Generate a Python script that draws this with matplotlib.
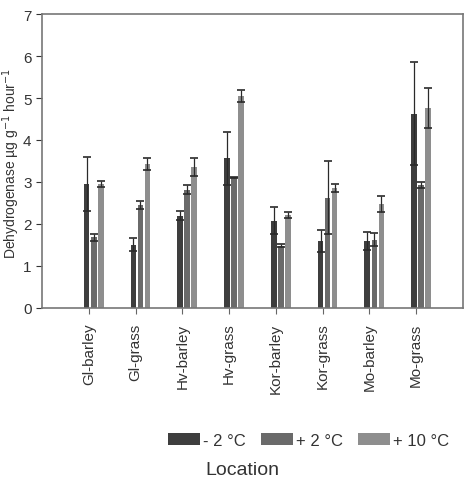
import numpy as np
import matplotlib
matplotlib.use("Agg")
import matplotlib.pyplot as plt

plt.rcParams['font.family'] = ['Liberation Sans', 'DejaVu Sans']

# data
locations = ['Gl-barley', 'Gl-grass', 'Hv-barley', 'Hv-grass',
             'Kor-barley', 'Kor-grass', 'Mo-barley', 'Mo-grass']
series = ['- 2 °C', '+ 2 °C', '+ 10 °C']
minus2 = [2.95, 1.51, 2.20, 3.56, 2.08, 1.60, 1.59, 4.63]
minus2_err = [0.65, 0.15, 0.10, 0.63, 0.32, 0.26, 0.22, 1.22]
plus2 = [1.68, 2.45, 2.82, 3.11, 1.48, 2.63, 1.63, 2.93]
plus2_err = [0.08, 0.10, 0.11, 0.01, 0.04, 0.87, 0.15, 0.08]
plus10 = [2.95, 3.43, 3.36, 5.04, 2.21, 2.86, 2.48, 4.76]
plus10_err = [0.07, 0.14, 0.22, 0.14, 0.07, 0.09, 0.19, 0.47]

colors = ['#3e3e3e', '#6a6a6a', '#8e8e8e']
offsets = [-0.045, 0.105, 0.255]
width = 0.12

fig = plt.figure(figsize=(4.69, 4.85), dpi=100)
ax = fig.add_axes([0.0896, 0.363, 0.8975, 0.606])

x = np.arange(len(locations))
for vals, errs, col, off, lab in zip([minus2, plus2, plus10],
                                     [minus2_err, plus2_err, plus10_err],
                                     colors, offsets, series):
    ax.bar(x + off, vals, width, color=col, label=lab, zorder=2)
    ax.errorbar(x + off, vals, yerr=errs, fmt='none', ecolor='#2a2a2a',
                elinewidth=0.9, capsize=3, capthick=1.2, zorder=3)

ax.set_xlim(-1, 8)
ax.set_ylim(0, 7)
ax.set_yticks(range(8))
ax.set_xticks(x)
ax.set_xticklabels(locations, rotation=90, fontsize=11, color='#333333')
ax.tick_params(axis='y', labelsize=11, colors='#333333', direction='out', length=4, pad=3.6)
ax.tick_params(axis='x', direction='out', length=4, color='#666666', pad=6.5)
for s in ax.spines.values():
    s.set_color('#777777')
    s.set_linewidth(1.2)

fig.text(0.024, 0.664, 'Dehydrogenase µg g$^{-1}$ hour$^{-1}$', rotation=90,
         ha='center', va='center', fontsize=10, color='#333333')

fig.legend(loc='center', bbox_to_anchor=(0.658, 0.09), ncol=3, frameon=False,
           fontsize=12, handlelength=1.9, handleheight=0.7, handletextpad=0.2,
           columnspacing=0.9, labelcolor='#333333')
fig.text(0.516, 0.029, 'Location', ha='center', va='center', fontsize=14, color='#333333')

fig.savefig('out.png', dpi=100)
